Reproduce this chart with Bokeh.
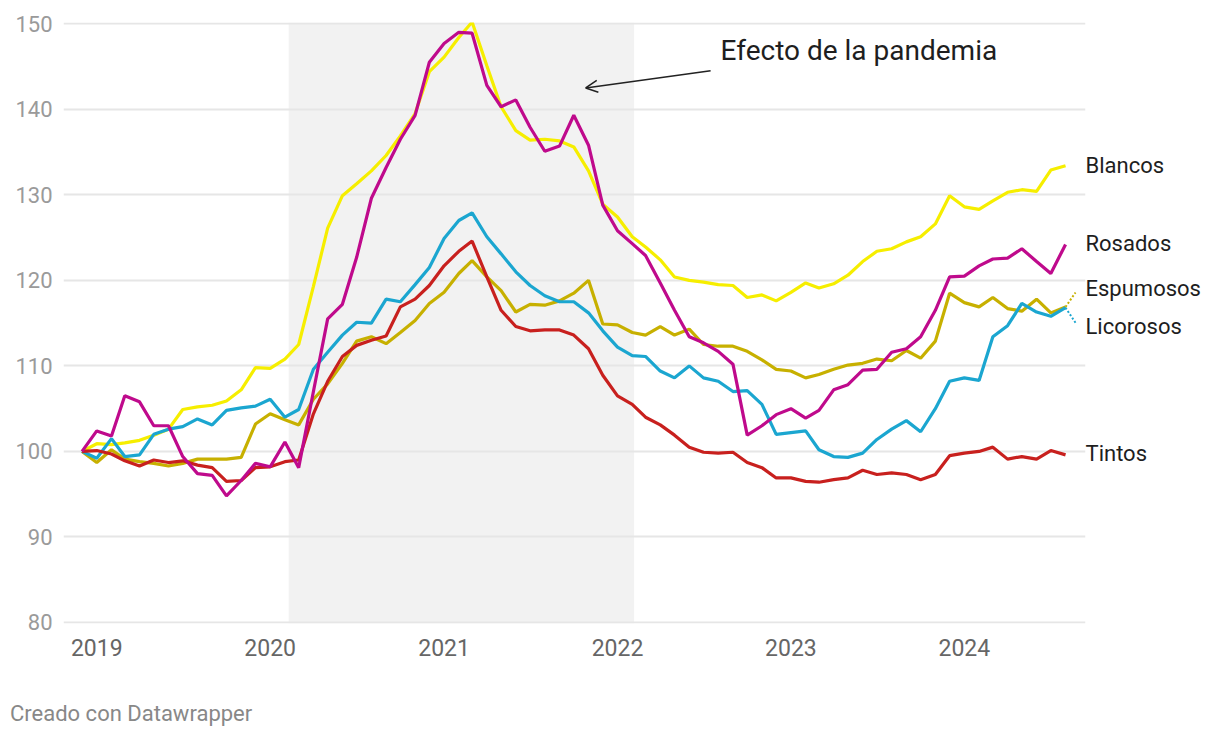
import pandas as pd
from bokeh.plotting import figure
from bokeh.layouts import column
from bokeh.models import (ColumnDataSource, BoxAnnotation, Label, Arrow, OpenHead, Div,
                          FixedTicker, DatetimeTickFormatter, Range1d, LinearAxis)
from bokeh.embed import file_html
from bokeh.resources import INLINE

# ---------------- data ----------------
months = pd.date_range("2018-12-01", "2024-08-01", freq="MS")

blancos = [100.0, 100.9, 100.8, 101.0, 101.3, 101.9, 102.6, 104.9, 105.2, 105.4, 105.9, 107.2,
           109.8, 109.7, 110.8, 112.5, 119.3, 126.1, 129.9, 131.3, 132.8, 134.6, 136.9, 139.5,
           144.4, 146.1, 148.4, 150.2, 145.1, 140.3, 137.5, 136.4, 136.5, 136.3, 135.6, 132.8,
           128.9, 127.4, 125.1, 123.9, 122.4, 120.4, 120.0, 119.8, 119.5, 119.4, 118.0, 118.3,
           117.6, 118.6, 119.7, 119.1, 119.6, 120.6, 122.2, 123.4, 123.7, 124.5, 125.1, 126.6,
           129.9, 128.6, 128.3, 129.3, 130.3, 130.6, 130.4, 132.9, 133.4]

rosados = [100.0, 102.4, 101.8, 106.5, 105.8, 103.0, 103.0, 99.4, 97.4, 97.2, 94.8, 96.6,
           98.6, 98.2, 101.1, 98.1, 107.0, 115.5, 117.2, 122.7, 129.6, 133.2, 136.5, 139.3,
           145.5, 147.7, 149.0, 148.9, 142.8, 140.3, 141.1, 137.9, 135.1, 135.7, 139.3, 135.8,
           128.8, 125.8, 124.3, 122.9, 119.7, 116.5, 113.4, 112.7, 111.7, 110.2, 101.9, 103.0,
           104.3, 105.0, 103.9, 104.8, 107.2, 107.8, 109.5, 109.6, 111.6, 112.0, 113.4, 116.5,
           120.4, 120.5, 121.7, 122.5, 122.6, 123.7, 122.2, 120.8, 124.2]

espumosos = [100.0, 98.7, 100.2, 99.1, 98.8, 98.6, 98.3, 98.6, 99.1, 99.1, 99.1, 99.3,
             103.2, 104.4, 103.7, 103.1, 106.1, 107.9, 110.3, 112.9, 113.4, 112.6, 113.9, 115.3,
             117.3, 118.6, 120.8, 122.3, 120.4, 118.8, 116.3, 117.2, 117.1, 117.6, 118.5, 120.0,
             114.9, 114.8, 113.9, 113.6, 114.6, 113.6, 114.3, 112.5, 112.3, 112.3, 111.7, 110.7,
             109.6, 109.4, 108.6, 109.0, 109.6, 110.1, 110.3, 110.8, 110.6, 111.8, 110.9, 112.9,
             118.5, 117.4, 116.9, 118.0, 116.7, 116.4, 117.8, 116.2, 116.9]

licorosos = [100.0, 99.2, 101.5, 99.4, 99.6, 102.0, 102.6, 102.9, 103.8, 103.1, 104.8, 105.1,
             105.3, 106.1, 104.0, 104.9, 109.6, 111.6, 113.6, 115.1, 115.0, 117.8, 117.5, 119.5,
             121.5, 124.9, 127.0, 127.9, 125.1, 123.1, 121.0, 119.4, 118.2, 117.5, 117.5, 116.2,
             114.1, 112.2, 111.2, 111.1, 109.4, 108.6, 110.0, 108.6, 108.2, 107.0, 107.1, 105.5,
             102.0, 102.2, 102.4, 100.2, 99.4, 99.3, 99.8, 101.4, 102.6, 103.6, 102.3, 105.0,
             108.2, 108.6, 108.3, 113.4, 114.7, 117.3, 116.3, 115.8, 116.8]

tintos = [100.0, 100.1, 99.7, 98.9, 98.3, 99.0, 98.7, 98.9, 98.4, 98.1, 96.5, 96.6,
          98.1, 98.2, 98.8, 99.0, 104.4, 108.2, 111.1, 112.4, 113.0, 113.5, 116.9, 117.8,
          119.4, 121.7, 123.4, 124.6, 120.4, 116.5, 114.6, 114.1, 114.2, 114.2, 113.6, 112.0,
          108.9, 106.5, 105.5, 104.0, 103.1, 101.9, 100.5, 99.9, 99.8, 99.9, 98.7, 98.1,
          96.9, 96.9, 96.5, 96.4, 96.7, 96.9, 97.8, 97.3, 97.5, 97.3, 96.7, 97.3,
          99.5, 99.8, 100.0, 100.5, 99.1, 99.4, 99.1, 100.1, 99.6]

series_names = ["Blancos", "Espumosos", "Licorosos", "Tintos", "Rosados"]
series_values = [blancos, espumosos, licorosos, tintos, rosados]
series_colors = ["#f6ee00", "#c7b000", "#1ba6d0", "#c8201e", "#bf0a8c"]
label_y = {"Blancos": 133.4, "Rosados": 124.3, "Espumosos": 119.0, "Licorosos": 114.6, "Tintos": 99.8}

year_ticks = ["2019-01-01", "2020-01-01", "2021-01-01", "2022-01-01", "2023-01-01", "2024-01-01"]
y_ticks = [80, 90, 100, 110, 120, 130, 140, 150]
pandemic = ("2020-02-09", "2022-02-05")


def ms(s):
    return pd.Timestamp(s).value / 1e6


FONT = "Roboto"

p = figure(width=1215, height=700, x_axis_type="datetime",
           x_range=Range1d(start=ms("2018-10-23"), end=ms("2024-09-12")),
           y_range=Range1d(start=79.88, end=150.15),
           output_backend="svg", toolbar_location=None,
           min_border_left=63, min_border_right=130, min_border_top=22, min_border_bottom=77)
p.outline_line_color = None
p.background_fill_color = "white"
p.border_fill_color = "white"

# shaded pandemic band
p.add_layout(BoxAnnotation(left=ms(pandemic[0]), right=ms(pandemic[1]),
                           fill_color="#f2f2f2", fill_alpha=1.0, line_color=None, level="image"))

# grid
p.xgrid.grid_line_color = None
p.ygrid.grid_line_color = "#e6e6e6"
p.ygrid.grid_line_width = 2
p.ygrid.ticker = FixedTicker(ticks=y_ticks)

# axes
p.xaxis.ticker = FixedTicker(ticks=[ms(t) for t in year_ticks])
p.xaxis.formatter = DatetimeTickFormatter(years="%Y", months="%Y", days="%Y", hours="%Y",
                                          minutes="%Y", seconds="%Y", milliseconds="%Y",
                                          microseconds="%Y", minsec="%Y", hourmin="%Y")
p.yaxis.ticker = FixedTicker(ticks=y_ticks)

# series labels as a right-hand axis
label_axis = LinearAxis(ticker=FixedTicker(ticks=list(label_y.values())),
                        major_label_overrides={v: k for k, v in label_y.items()})
p.add_layout(label_axis, "right")

for ax in (p.xaxis[0], p.yaxis[0], label_axis):
    ax.axis_line_color = None
    ax.major_tick_line_color = None
    ax.minor_tick_line_color = None
    ax.major_tick_out = 0
    ax.major_tick_in = 0
    ax.minor_tick_out = 0
    ax.minor_tick_in = 0
    ax.major_label_text_font = FONT
    ax.major_label_text_font_size = "23px"
p.yaxis.major_label_text_font_size = "22px"
p.xaxis.major_label_text_color = "#666666"
p.yaxis.major_label_text_color = "#9a9a9a"
p.xaxis.major_label_standoff = 15
p.yaxis.major_label_standoff = 11
label_axis.major_label_text_color = "#1e1e1e"
label_axis.major_label_standoff = 0

src = ColumnDataSource(dict(date=months, **{n: v for n, v in zip(series_names, series_values)}))

for name, color in zip(series_names, series_colors):
    p.line(x="date", y=name, source=src, line_color=color, line_width=3.2)

last_x = ms(months[-1])
conn_x = last_x + 21 * 86400000
for name, vals, color in zip(series_names, series_values, series_colors):
    ly = label_y[name]
    if abs(ly - vals[-1]) > 1.0:
        p.segment(x0=[last_x], y0=[vals[-1]], x1=[conn_x], y1=[vals[-1] + (ly - vals[-1]) * 0.8],
                  line_color=color, line_width=2, line_dash="2 2")

# annotation
p.add_layout(Label(x=ms("2022-08-06"), y=146.9, text="Efecto de la pandemia", text_font=FONT,
                   text_font_size="28px", text_color="#1e1e1e", text_baseline="middle",
                   text_align="left"))
p.add_layout(Arrow(end=OpenHead(size=12, line_color="#222222", line_width=1.5),
                   x_start=ms("2022-07-16"), y_start=144.5, x_end=ms("2021-10-26"), y_end=142.5,
                   line_color="#222222", line_width=1.5))

# footer
footer = Div(text="Creado con Datawrapper", width=1215, height=30, margin=(0, 0, 0, 0),
             styles={"font-family": "Roboto", "font-size": "22px", "color": "#888888",
                     "line-height": "28px", "padding-left": "10px"})

layout = column(p, footer, spacing=0)
open("out.html", "w").write(file_html(layout, INLINE))
